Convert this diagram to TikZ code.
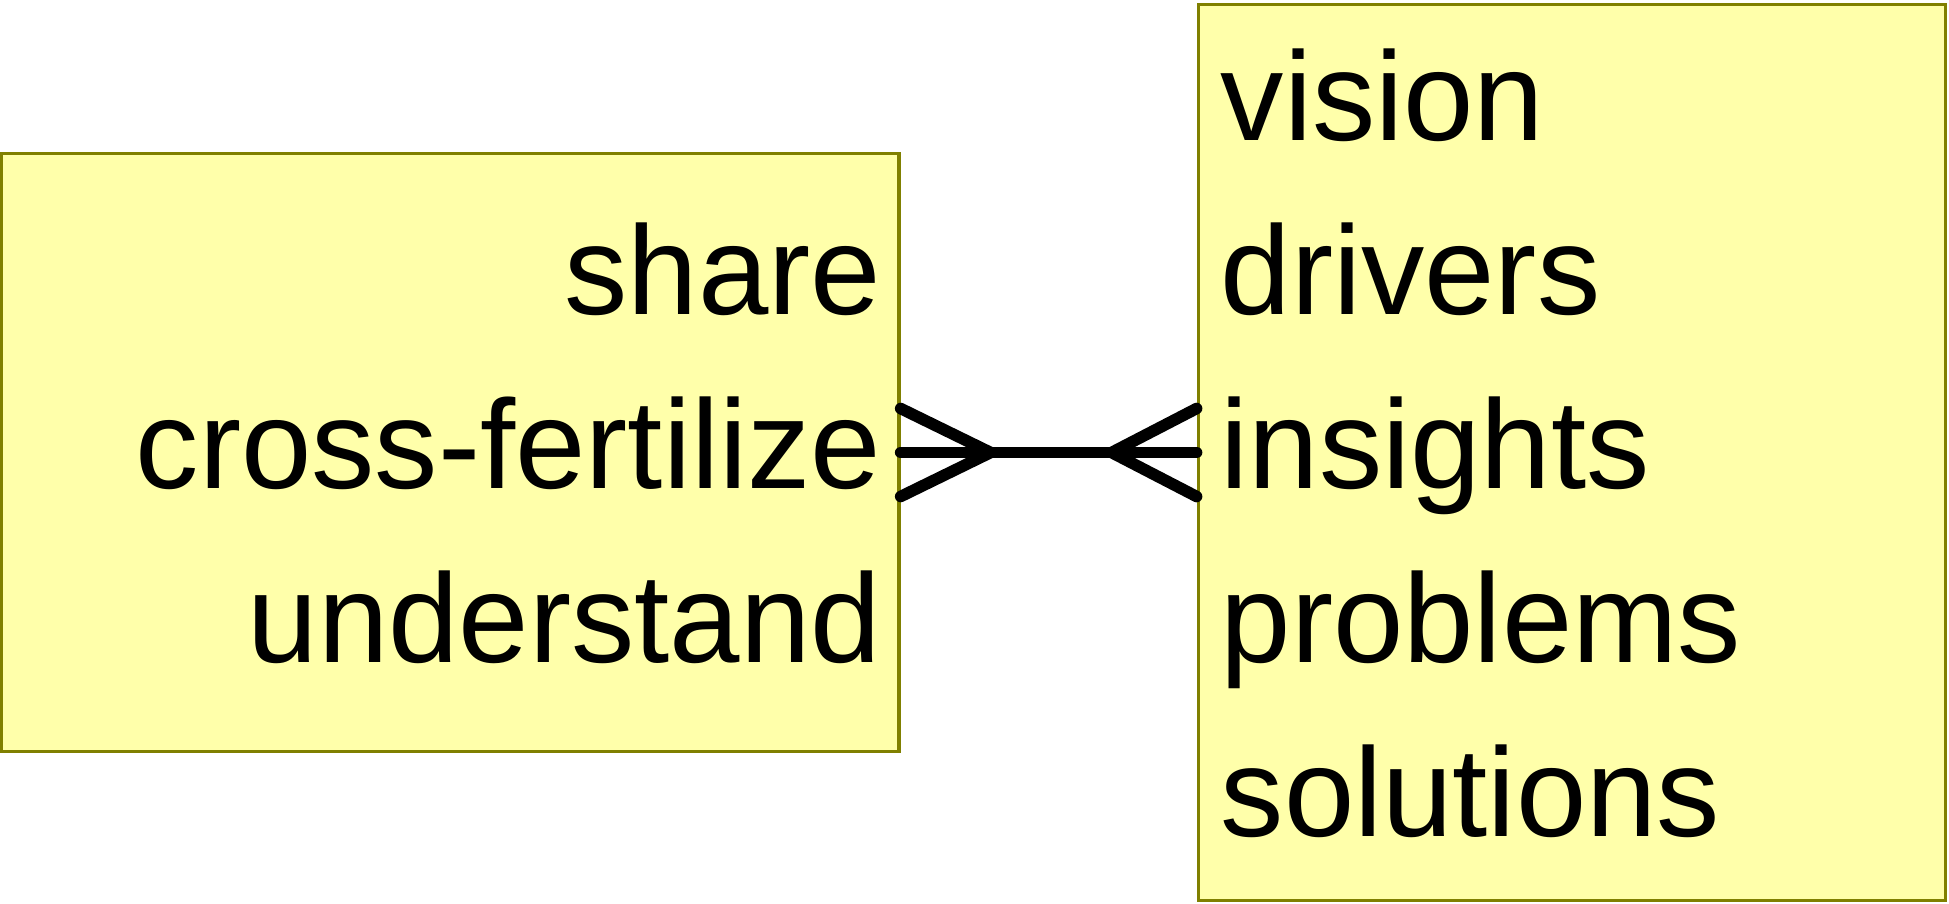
\documentclass[tikz,border=0pt]{standalone}
\usepackage{fontspec}
\setmainfont{Liberation Sans}
\usetikzlibrary{positioning}
\definecolor{boxfill}{RGB}{255,255,170}
\definecolor{boxline}{RGB}{128,128,0}
\newcommand{\lowstrut}{\rule[-0.2cm]{0pt}{0.2cm}}
\begin{document}
\begin{tikzpicture}[
  box/.style={draw=boxline, fill=boxfill, line width=0.95pt, rectangle,
    font=\fontsize{36}{49.5}\selectfont},
  link/.style={line width=3.3pt, line cap=round}
]
  \useasboundingbox (0,0) rectangle (19.49,-9.03);

  \node[box, minimum width=8.98cm, minimum height=5.98cm, inner xsep=0.18cm,
    text width=8.62cm, align=right] (actions) at (4.50,-4.525)
    {share\\cross-fertilize\\understand\lowstrut};
  \node[box, minimum width=7.475cm, minimum height=8.96cm, inner xsep=0.225cm,
    text width=7.025cm, align=left] (topics) at (15.72,-4.525)
    {vision\\drivers\\insights\\problems\\solutions\lowstrut};

  \coordinate[right=0.9cm of actions.east] (ljoin);
  \coordinate[left=0.85cm of topics.west] (rjoin);

  \draw[link] (actions.east) -- (topics.west);
  \draw[link] ([yshift=0.44cm]actions.east) -- (ljoin) -- ([yshift=-0.44cm]actions.east);
  \draw[link] ([yshift=0.44cm]topics.west) -- (rjoin) -- ([yshift=-0.44cm]topics.west);

\end{tikzpicture}
\end{document}
